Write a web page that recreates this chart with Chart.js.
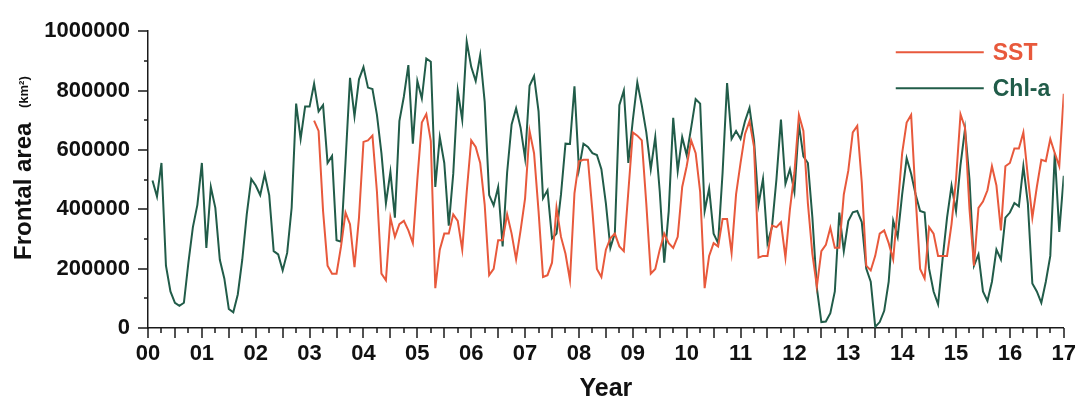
<!DOCTYPE html>
<html><head><meta charset="utf-8">
<script src="https://cdn.jsdelivr.net/npm/chart.js@4.4.0/dist/chart.umd.min.js"></script>
<style>html,body{margin:0;padding:0;background:#fff;}#wrap{width:1089px;height:408px;position:relative;}</style>
</head><body><div id="wrap"><canvas id="c" width="1089" height="408"></canvas></div>
<script>
// ---- data (monthly frontal area, km²) ----
const yearTickLabels = ['00','01','02','03','04','05','06','07','08','09','10','11','12','13','14','15','16','17'];
const seriesNames = ['SST', 'Chl-a'];
const chlStartMonth = 0;   // Jan 2000
const sstStartMonth = 36;  // Jan 2003
const chlValues = [
 497000,443000,556000,210000,123000,85000,75000,85000,220000,340000,415000,556000,
 270000,475000,405000,230000,167000,64000,53000,113000,230000,383000,502000,480000,
 448000,518000,448000,259000,248000,194000,253000,405000,756000,637000,746000,746000,
 823000,730000,751000,556000,580000,296000,291000,560000,843000,713000,838000,879000,
 810000,805000,718000,589000,420000,526000,372000,697000,780000,886000,621000,832000,
 773000,908000,897000,475000,643000,556000,345000,520000,800000,702000,965000,880000,
 832000,919000,762000,448000,413000,475000,275000,524000,686000,740000,675000,572000,
 816000,849000,730000,437000,464000,302000,318000,450000,621000,620000,814000,535000,
 621000,610000,589000,583000,535000,420000,270000,320000,751000,800000,556000,700000,
 827000,750000,660000,535000,643000,460000,220000,394000,708000,529000,643000,583000,
 675000,771000,756000,394000,470000,318000,286000,524000,825000,637000,664000,637000,
 697000,742000,632000,416000,502000,286000,340000,502000,702000,486000,535000,459000,
 686000,578000,556000,373000,134000,20000,22000,50000,123000,389000,259000,360000,
 390000,394000,357000,200000,156000,4000,20000,58000,156000,361000,307000,450000,
 572000,520000,450000,394000,389000,200000,123000,80000,231000,372000,480000,394000,
 550000,670000,500000,210000,248000,123000,91000,156000,264000,231000,372000,389000,
 421000,410000,545000,420000,150000,123000,85000,156000,243000,589000,324000,513000
];
const sstValues = [
 699000,664000,394000,210000,183000,183000,275000,389000,350000,205000,372000,627000,
 632000,648000,459000,183000,161000,372000,307000,350000,361000,329000,286000,500000,
 692000,721000,630000,134000,264000,318000,318000,383000,361000,264000,459000,632000,
 610000,556000,416000,178000,199000,296000,296000,383000,318000,231000,329000,437000,
 664000,589000,394000,172000,178000,220000,405000,307000,250000,161000,454000,562000,
 567000,567000,394000,199000,172000,264000,302000,318000,275000,259000,459000,659000,
 648000,632000,420000,183000,199000,264000,318000,286000,270000,307000,475000,545000,
 632000,589000,459000,134000,243000,286000,275000,367000,367000,253000,450000,556000,
 654000,697000,610000,237000,243000,243000,345000,340000,356000,237000,400000,524000,
 718000,664000,420000,250000,140000,259000,280000,338000,270000,270000,450000,530000,
 659000,681000,491000,210000,194000,243000,318000,329000,286000,231000,405000,589000,
 692000,718000,440000,199000,167000,340000,318000,243000,243000,243000,350000,500000,
 720000,675000,400000,210000,405000,426000,464000,545000,480000,329000,545000,556000,
 605000,605000,659000,510000,372000,475000,567000,562000,637000,589000,545000,789000
];
const SST_COLOR = '#e8593c';
const CHL_COLOR = '#215c49';
const AXIS_COLOR = '#1a1a1a';

function toPoints(values, startMonth) {
  return values.map((v, k) => ({ x: (startMonth + k + 1) / 12, y: v }));
}

const tickMarks = {
  id: 'tickMarks',
  afterDraw(chart) {
    const ctx = chart.ctx, xs = chart.scales.x, ys = chart.scales.y;
    ctx.save();
    ctx.strokeStyle = AXIS_COLOR; ctx.lineWidth = 1.5;
    ctx.beginPath();
    xs.ticks.forEach(t => {
      const px = Math.round(xs.getPixelForValue(t.value));
      const len = (Math.abs(t.value * 2 - Math.round(t.value * 2)) < 1e-9) ? 10 : 5;
      ctx.moveTo(px, xs.top); ctx.lineTo(px, xs.top + len);
    });
    ys.ticks.forEach(t => {
      const py = Math.round(ys.getPixelForValue(t.value));
      const len = (t.value % 200000 === 0) ? 10 : 4;
      ctx.moveTo(ys.right, py); ctx.lineTo(ys.right - len, py);
    });
    ctx.stroke();
    ctx.restore();
  }
};

const yTitle = {
  id: 'yTitle',
  afterDraw(chart) {
    const ctx = chart.ctx;
    ctx.save();
    ctx.translate(31, 260);
    ctx.rotate(-Math.PI / 2);
    ctx.fillStyle = '#111';
    ctx.textAlign = 'left';
    ctx.textBaseline = 'alphabetic';
    ctx.font = 'bold 24px "Liberation Sans", Arial, sans-serif';
    ctx.fillText('Frontal area', 0, 0);
    ctx.font = 'bold 13px "Liberation Sans", Arial, sans-serif';
    ctx.fillText('(km²)', 152, -3);
    ctx.restore();
  }
};

const lineLegend = {
  id: 'lineLegend',
  afterDraw(chart) {
    const ctx = chart.ctx, area = chart.chartArea;
    const x0 = area.right - 168, x1 = area.right - 80;
    ctx.save();
    chart.data.datasets.forEach((ds, k) => {
      const y = area.top + 21 + k * 36;
      ctx.strokeStyle = ds.borderColor; ctx.lineWidth = 2;
      ctx.beginPath(); ctx.moveTo(x0, y); ctx.lineTo(x1, y); ctx.stroke();
      ctx.fillStyle = ds.borderColor;
      ctx.font = 'bold 23px "Liberation Sans", Arial, sans-serif';
      ctx.textAlign = 'left'; ctx.textBaseline = 'middle';
      ctx.fillText(ds.label, x1 + 9, y + 1);
    });
    ctx.restore();
  }
};

new Chart(document.getElementById('c'), {
  type: 'line',
  data: {
    datasets: [
      { label: seriesNames[0], data: toPoints(sstValues, sstStartMonth), borderColor: SST_COLOR, backgroundColor: SST_COLOR, borderWidth: 2, pointRadius: 0, tension: 0, fill: false },
      { label: seriesNames[1], data: toPoints(chlValues, chlStartMonth), borderColor: CHL_COLOR, backgroundColor: CHL_COLOR, borderWidth: 2, pointRadius: 0, tension: 0, fill: false }
    ]
  },
  options: {
    responsive: false, animation: false, devicePixelRatio: 1,
    layout: { padding: { top: 20, right: 21, left: 0, bottom: 0 } },
    plugins: { legend: { display: false }, tooltip: { enabled: false } },
    scales: {
      x: {
        type: 'linear', min: 0, max: 17, position: 'bottom',
        grid: { drawOnChartArea: false, drawTicks: false },
        border: { display: true, color: AXIS_COLOR, width: 1.5 },
        ticks: {
          stepSize: 0.25, autoSkip: false, maxRotation: 0, minRotation: 0, padding: 13,
          color: '#111',
          font: { family: '"Liberation Sans", Arial, sans-serif', size: 22, weight: 'bold' },
          callback: (v) => Number.isInteger(v) ? yearTickLabels[v] : ''
        },
        title: { display: true, text: 'Year', color: '#111', padding: { top: 0, bottom: 4 },
          font: { family: '"Liberation Sans", Arial, sans-serif', size: 25, weight: 'bold' } },
        afterFit: (s) => { s.height = 80; }
      },
      y: {
        min: 0, max: 1000000,
        grid: { drawOnChartArea: false, drawTicks: false },
        border: { display: true, color: AXIS_COLOR, width: 1.5 },
        ticks: {
          stepSize: 100000, autoSkip: false, padding: 18, color: '#111',
          font: { family: '"Liberation Sans", Arial, sans-serif', size: 22, weight: 'bold' },
          callback: (v) => (v % 200000 === 0) ? String(v) : ''
        },
        afterFit: (s) => { s.width = 148; }
      }
    }
  },
  plugins: [tickMarks, yTitle, lineLegend]
});
</script>
</body></html>
